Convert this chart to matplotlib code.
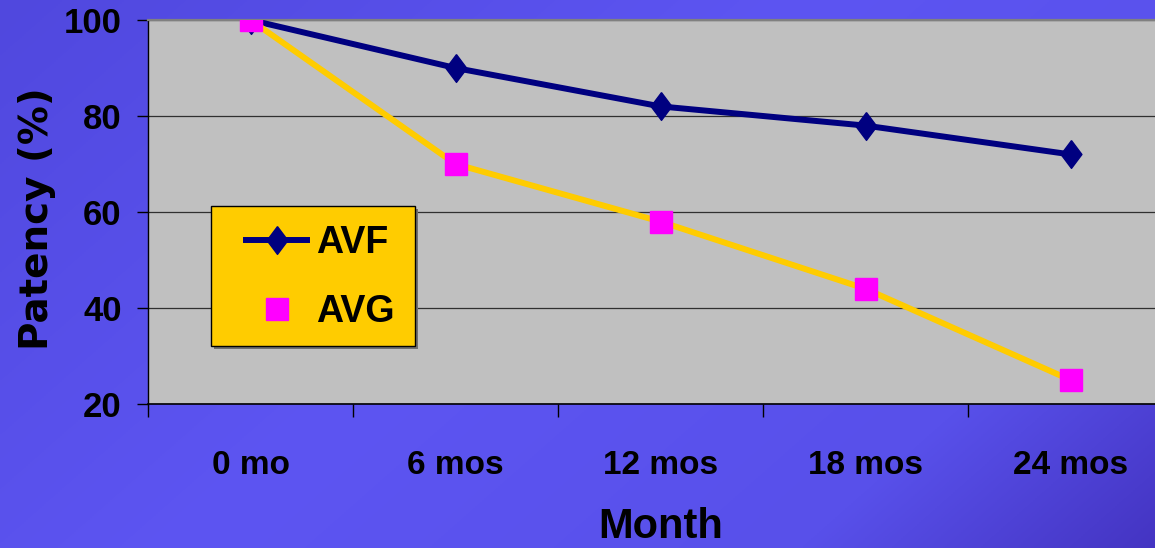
import matplotlib.pyplot as plt
import numpy as np
from matplotlib.colors import to_rgb
from matplotlib.patches import Rectangle

months = ['0 mo', '6 mos', '12 mos', '18 mos', '24 mos']
avf = [100, 90, 82, 78, 72]
avg = [100, 70, 58, 44, 25]
yticks = [20, 40, 60, 80, 100]

plt.rcParams['font.family'] = 'Liberation Sans'
plt.rcParams['font.weight'] = 'bold'
plt.rcParams['axes.labelweight'] = 'bold'

W, H = 1155, 548
fig = plt.figure(figsize=(W / 100, H / 100), dpi=100)

# diagonal blue/purple backdrop
h, w = 274, 578
yy, xx = np.mgrid[0:h, 0:w]
t = (xx / w * 0.65 + yy / h * 0.35)
stops = [(0.0, '#5048de'), (0.45, '#5d55f2'), (0.8, '#5850ea'), (1.0, '#4434c2')]
img = np.zeros((h, w, 3))
for k in range(3):
    img[..., k] = np.interp(t, [s[0] for s in stops], [to_rgb(s[1])[k] for s in stops])
bg = fig.add_axes([0, 0, 1, 1], zorder=-10)
bg.imshow(img, aspect='auto', extent=[0, 1, 0, 1])
bg.axis('off')

ax = fig.add_axes([148 / W, 144 / H, 1025 / W, 384 / H])
ax.set_facecolor('#c0c0c0')
x = np.arange(len(months))

diamond = [(0, 1), (0.75, 0), (0, -1), (-0.75, 0), (0, 1)]
ax.plot(x, avf, color='#000080', lw=4.3, marker=diamond, ms=20,
        mfc='#000080', mec='#000080', label='AVF', zorder=3)
ax.plot(x, avg, color='#ffcc00', lw=4.3, marker='s', ms=16,
        mfc='#ff00ff', mec='#ff00ff', label='AVG', zorder=4)

ax.set_xlim(-0.5, 4.5)
ax.set_ylim(20, 100)
ax.set_yticks(yticks)
ax.set_xticks(x)
ax.set_xticklabels(months)
ax.set_xticks(np.arange(-0.5, 5, 1), minor=True)
ax.tick_params(axis='y', direction='out', length=8, width=1, pad=11, labelsize=25)
ax.tick_params(axis='x', which='major', length=0, pad=33, labelsize=24)
ax.tick_params(axis='x', which='minor', direction='out', length=9, width=1)
ax.grid(axis='y', color='#303030', lw=0.9)
ax.set_axisbelow(True)

ax.spines['top'].set_color('#808080')
ax.spines['top'].set_linewidth(1.6)
ax.spines['right'].set_visible(False)
ax.spines['left'].set_linewidth(1)
ax.spines['bottom'].set_linewidth(1.2)

ax.set_xlabel('Month', fontsize=30, va='center')
ax.xaxis.set_label_coords(0.5, -0.32)
ax.set_ylabel('Patency (%)', fontsize=28, va='center', family='DejaVu Sans')
ax.yaxis.set_label_coords(-0.108, 0.484)

# legend box: yellow panel with a grey drop shadow
lx0, ly0, lw_, lh = 211, 206, 204, 140
ax.add_patch(Rectangle(((lx0 + 3) / W, 1 - (ly0 + lh + 3) / H), lw_ / W, lh / H,
                       transform=fig.transFigure, clip_on=False,
                       facecolor='#707070', edgecolor='none', zorder=5))
ax.add_patch(Rectangle((lx0 / W, 1 - (ly0 + lh) / H), lw_ / W, lh / H,
                       transform=fig.transFigure, clip_on=False,
                       facecolor='#ffcc00', edgecolor='black', lw=1, zorder=5.1))
leg = ax.legend(loc='center left', bbox_to_anchor=(246 / W, 1 - 277.5 / H),
                bbox_transform=fig.transFigure, fontsize=27, frameon=False,
                handlelength=1.63, borderpad=0, labelspacing=0.87,
                handletextpad=0.24, borderaxespad=0)
leg.set_zorder(6)

fig.savefig('out.png', dpi=100)
